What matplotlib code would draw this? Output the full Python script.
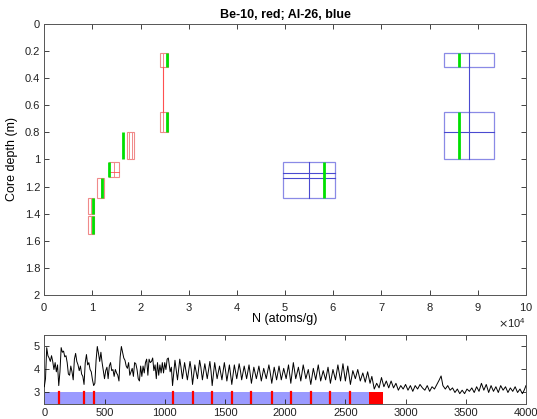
import numpy as np
import matplotlib
matplotlib.use("Agg")
import matplotlib.pyplot as plt
from matplotlib.patches import Rectangle
from matplotlib.ticker import MultipleLocator, FormatStrFormatter, ScalarFormatter

plt.rcParams['font.family'] = ['Liberation Sans', 'DejaVu Sans']

# ---- top panel data: N in atoms/g, depth in m ----
# Be-10 samples (red boxes)
be_ztop = [0.217, 0.648, 0.800, 1.021, 1.140, 1.283, 1.418]
be_zbot = [0.315, 0.800, 0.997, 1.132, 1.288, 1.399, 1.551]
be_nlo = [24000, 24000, 17190, 13450, 10960, 9150, 9150]
be_nhi = [25600, 25600, 18710, 15600, 12470, 10400, 10400]
be_model = [25430, 25430, 16430, 13520, 11930, 10190, 10190]
be_inner_n = [[24740], [24740], [17670, 18230], [14550], [11700], [9700], [9700]]
be_inner_z = [[], [], [], [1.091], [], [], []]
be_link_n = 24740
be_link_z = [0.315, 0.648]

# Al-26 samples (blue boxes)
al_ztop = [0.217, 0.648, 1.021]
al_zbot = [0.315, 0.997, 1.285]
al_nlo = [82900, 82900, 49560]
al_nhi = [93300, 93300, 60300]
al_mean = [88150, 88150, 54970]
al_model = [86150, 86150, 58150]
al_inner_z = [[], [0.800], [1.103, 1.135]]
al_link_z = [0.315, 0.648]

# ---- bottom panel: benthic d18O stack ----
age_a = list(range(0, 1001, 10))
d18o_a = [3.25, 3.6, 4.95, 4.6, 4.5, 4.35, 4.6, 4.35, 4.0, 4.3,
          3.9, 4.2, 3.3, 3.9, 4.95, 4.75, 4.8, 4.55, 4.6, 4.3,
          3.8, 3.75, 4.15, 3.9, 3.55, 4.45, 4.7, 4.35, 4.2, 3.95,
          4.15, 3.8, 3.7, 3.35, 4.3, 4.65, 4.2, 4.3, 4.0, 3.9,
          3.55, 3.3, 3.4, 4.4, 5.0, 4.7, 4.35, 4.75, 4.3, 3.95,
          3.6, 3.95, 4.1, 3.6, 4.15, 4.3, 3.95, 4.0, 3.7, 4.0,
          3.85, 3.75, 3.5, 4.55, 5.0, 4.75, 4.5, 4.4, 4.15, 4.05,
          4.3, 3.75, 3.9, 4.05, 3.7, 4.3, 4.25, 4.0, 3.6, 3.5,
          4.15, 3.7, 4.15, 3.85, 4.3, 4.45, 3.75, 4.45, 4.3, 4.35,
          4.5, 3.95, 4.2, 3.6, 4.3, 3.75, 4.2, 3.85, 4.3, 3.85,
          4.3]
age_b = [1010, 1020, 1030, 1045, 1055, 1065, 1085, 1095, 1106, 1125,
         1135, 1147, 1165, 1188, 1210, 1220, 1231, 1250, 1272, 1290,
         1300, 1313, 1333, 1353, 1375, 1385, 1394, 1415, 1435, 1455,
         1475, 1495, 1505, 1516, 1537, 1557, 1578, 1598, 1618, 1630,
         1639, 1660, 1680, 1700, 1720, 1740, 1761, 1782, 1802, 1822,
         1843, 1865, 1875, 1889, 1909, 1929, 1949, 1968, 1988, 2008,
         2028, 2047, 2068, 2088, 2110, 2130, 2150, 2172, 2192, 2213,
         2234, 2254, 2275, 2295, 2316, 2336, 2356, 2376, 2397, 2418,
         2438, 2460, 2480, 2500, 2520, 2542, 2562, 2583, 2603, 2624,
         2645, 2665, 2685, 2705, 2720]
d18o_b = [4.0, 4.45, 4.5, 3.9, 4.1, 3.3, 4.4, 4.0, 3.55, 4.45,
          4.1, 3.6, 4.3, 3.55, 4.35, 4.0, 3.35, 4.2, 3.6, 4.4,
          4.1, 3.55, 4.25, 3.6, 4.35, 3.9, 3.3, 4.3, 3.6, 4.15,
          3.55, 4.3, 3.95, 3.5, 4.2, 3.35, 4.2, 3.6, 4.25, 3.9,
          3.55, 4.15, 3.6, 4.2, 3.4, 4.1, 3.6, 4.15, 3.5, 4.05,
          3.6, 4.2, 3.9, 3.4, 4.1, 3.55, 4.15, 3.55, 4.05, 3.6,
          4.2, 3.4, 4.3, 3.6, 4.1, 3.5, 4.2, 3.6, 4.0, 3.35,
          4.05, 3.55, 4.2, 3.5, 3.95, 3.55, 4.1, 3.4, 4.0, 3.55,
          4.2, 3.5, 4.25, 3.5, 4.15, 3.35, 3.95, 3.6, 4.0, 3.5,
          3.85, 3.45, 3.9, 3.4, 3.7]
age_c = [2740, 2760, 2780, 2800, 2820, 2840, 2860, 2880, 2900, 2920,
         2940, 2960, 2980, 3000, 3020, 3040, 3060, 3080, 3100, 3120,
         3140, 3160, 3180, 3200, 3220, 3240, 3260, 3280, 3295, 3310,
         3330, 3350, 3370, 3390, 3410, 3430, 3450, 3470, 3490, 3510,
         3530, 3550, 3570, 3590, 3610, 3630, 3650, 3670, 3690, 3710,
         3730, 3750, 3770, 3790, 3810, 3830, 3850, 3870, 3890, 3910,
         3930, 3950, 3970, 3985, 4000]
d18o_c = [3.15, 3.4, 3.2, 3.65, 3.25, 3.5, 3.2, 3.5, 3.2, 3.4,
          3.1, 3.3, 3.15, 3.35, 3.1, 3.3, 3.05, 3.3, 3.15, 3.35,
          3.2, 3.1, 3.3, 3.05, 3.25, 3.15, 3.35, 3.55, 3.72, 3.3,
          3.15, 3.3, 3.1, 3.2, 3.0, 3.15, 2.95, 3.1, 2.95, 3.15,
          3.05, 3.2, 3.0, 3.25, 3.05, 3.4, 3.1, 3.35, 3.0, 3.3,
          3.05, 3.25, 3.0, 3.3, 3.1, 3.25, 3.0, 3.2, 3.05, 3.25,
          3.0, 3.15, 2.95, 3.1, 3.3]

# sampled intervals (red marks on the blue bar) and the long red block
mark_ages = [125, 332, 415, 1065, 1231, 1394, 1557, 1720, 1889, 2047,
             2213, 2376, 2542]
bar_end = 2815
block_start = 2700

age = age_a + age_b + age_c
d18o = d18o_a + d18o_b + d18o_c

fig = plt.figure(figsize=(5.37, 4.19), dpi=100)
ax = fig.add_axes([0.0825, 0.296, 0.897, 0.6468])
ax2 = fig.add_axes([0.0825, 0.0358, 0.897, 0.1647])

axcol = '#555555'
red_edge = '#f08a8a'
red_line = '#ff5050'
blue_edge = '#8a8ae6'
blue_line = '#4a4ad0'
green = '#00e000'

for i in range(len(be_ztop)):
    ax.add_patch(Rectangle((be_nlo[i], be_ztop[i]), be_nhi[i] - be_nlo[i],
                           be_zbot[i] - be_ztop[i], fill=False,
                           ec=red_edge, lw=0.8))
    for n in be_inner_n[i]:
        ax.plot([n, n], [be_ztop[i], be_zbot[i]], color=red_edge, lw=0.7)
    for z in be_inner_z[i]:
        ax.plot([be_nlo[i], be_nhi[i]], [z, z], color=red_line, lw=0.6)
    ax.plot([be_model[i], be_model[i]], [be_ztop[i], be_zbot[i]],
            color=green, lw=2.0, solid_capstyle='butt')
ax.plot([be_link_n, be_link_n], be_link_z, color=red_line, lw=0.8)

for i in range(len(al_ztop)):
    ax.add_patch(Rectangle((al_nlo[i], al_ztop[i]), al_nhi[i] - al_nlo[i],
                           al_zbot[i] - al_ztop[i], fill=False,
                           ec=blue_edge, lw=0.9))
    ax.plot([al_mean[i], al_mean[i]], [al_ztop[i], al_zbot[i]],
            color=blue_line, lw=0.8)
    for z in al_inner_z[i]:
        ax.plot([al_nlo[i], al_nhi[i]], [z, z], color=blue_line, lw=0.8)
    ax.plot([al_model[i], al_model[i]], [al_ztop[i], al_zbot[i]],
            color=green, lw=2.0, solid_capstyle='butt')
ax.plot([al_mean[0], al_mean[0]], al_link_z, color=blue_line, lw=0.8)

ax.set_xlim(0, 100000)
ax.set_ylim(2, 0)
ax.xaxis.set_major_locator(MultipleLocator(10000))
ax.yaxis.set_major_locator(MultipleLocator(0.2))
ax.yaxis.set_major_formatter(FormatStrFormatter('%g'))
fmt = ScalarFormatter(useMathText=True)
fmt.set_powerlimits((4, 4))
ax.xaxis.set_major_formatter(fmt)
ax.set_title('Be-10, red; Al-26, blue', fontsize=9, fontweight='bold', pad=4)
ax.set_xlabel('N (atoms/g)', fontsize=9, labelpad=0)
ax.set_ylabel('Core depth (m)', fontsize=9, labelpad=5)

# bottom panel
ax2.add_patch(Rectangle((0, 2.5), bar_end, 0.5, fc='#9a9aff', ec='none',
                        zorder=1))
ax2.add_patch(Rectangle((block_start, 2.5), bar_end - block_start, 0.5,
                        fc='#ff0000', ec='none', zorder=2))
for a in mark_ages:
    ax2.plot([a, a], [2.5, 3.0], color='#ff0000', lw=1.6, zorder=2)
ax2.plot(age, d18o, color='k', lw=0.7, zorder=3)
ax2.set_xlim(0, 4000)
ax2.set_ylim(2.5, 5.5)
ax2.xaxis.set_major_locator(MultipleLocator(500))
ax2.set_yticks([3, 4, 5])

for a in (ax, ax2):
    a.tick_params(direction='in', top=True, right=True, length=3.5,
                  width=0.6, colors='#222222', labelsize=8, pad=3)
    for s in a.spines.values():
        s.set_color(axcol)
        s.set_linewidth(0.7)
ax.tick_params(axis='x', pad=4)
ax.xaxis.get_offset_text().set_fontsize(8)

fig.savefig('out.png', dpi=100)
